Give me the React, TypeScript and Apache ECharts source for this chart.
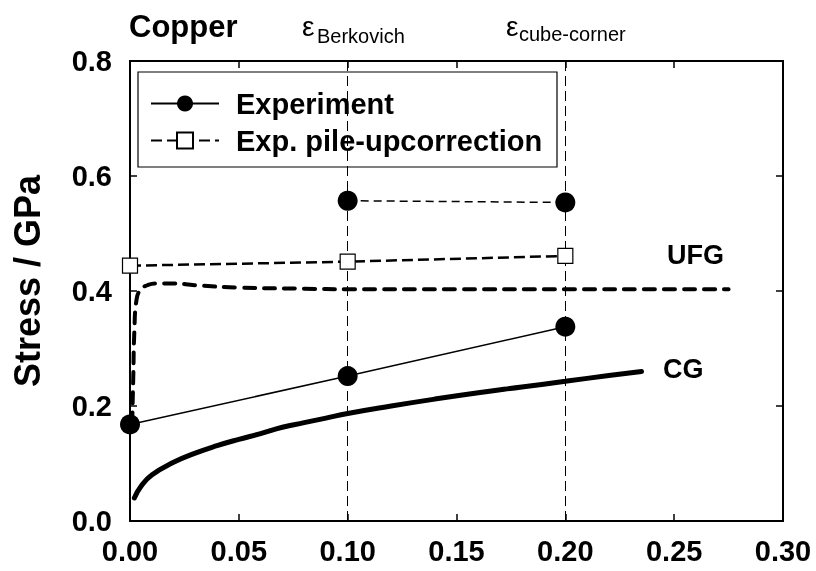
import React, { useEffect, useRef } from "react";
import * as echarts from "echarts";

const xTicks = [0, 0.05, 0.1, 0.15, 0.2, 0.25, 0.3];
const yTicks = [0, 0.2, 0.4, 0.6, 0.8];

const experimentX = [0.0, 0.1, 0.2];
const experimentY = [0.168, 0.252, 0.338];

const upperX = [0.1, 0.2];
const upperY = [0.557, 0.554];

const pileUpX = [0.0, 0.1, 0.2];
const pileUpY = [0.444, 0.451, 0.461];

const ufgX = [0.001, 0.0015, 0.002, 0.003, 0.005, 0.008, 0.012, 0.02, 0.03, 0.05, 0.08, 0.1, 0.15, 0.2, 0.25, 0.275];
const ufgY = [0.17, 0.25, 0.33, 0.385, 0.403, 0.41, 0.413, 0.413, 0.41, 0.406, 0.404, 0.403, 0.403, 0.403, 0.403, 0.403];

const cgX = [0.002, 0.005, 0.01, 0.02, 0.03, 0.04, 0.05, 0.06, 0.07, 0.08, 0.09, 0.1, 0.12, 0.14, 0.16, 0.18, 0.2, 0.22, 0.235];
const cgY = [0.04, 0.06, 0.08, 0.102, 0.118, 0.131, 0.142, 0.152, 0.163, 0.171, 0.179, 0.187, 0.2, 0.212, 0.223, 0.233, 0.243, 0.253, 0.26];

const strainMarks = [0.1, 0.2];
const legendNames = ["Experiment", "Exp. pile-upcorrection"];

const zip = (xs: number[], ys: number[]) => xs.map((x, i) => [x, ys[i]]);

const FONT = "Liberation Sans, Arial, sans-serif";

const makeAxis = (min: number, max: number, interval: number, position: string, label: any) => ({
  type: "value",
  min,
  max,
  interval,
  position,
  axisLine: { show: true, onZero: false, lineStyle: { color: "black", width: 2 } },
  axisTick: { show: true, inside: true, length: 7, lineStyle: { color: "black", width: 1.5 } },
  splitLine: { show: false },
  axisLabel: label,
});

export default function App() {
  const ref = useRef<HTMLDivElement>(null);
  useEffect(() => {
    if (!ref.current) return;
    const chart = echarts.init(ref.current, null, { renderer: "svg" });
    chart.setOption({
      animation: false,
      grid: { left: 130, right: 33, top: 61, bottom: 50, show: true, borderColor: "black", borderWidth: 2 },
      xAxis: [
        makeAxis(xTicks[0], xTicks[xTicks.length - 1], 0.05, "bottom", {
          fontFamily: FONT, fontWeight: "bold", fontSize: 29, color: "black", margin: 15,
          formatter: (v: number) => v.toFixed(2),
        }),
        makeAxis(xTicks[0], xTicks[xTicks.length - 1], 0.05, "top", { show: false }),
      ],
      yAxis: [
        makeAxis(yTicks[0], yTicks[yTicks.length - 1], 0.2, "left", {
          fontFamily: FONT, fontWeight: "bold", fontSize: 29, color: "black", margin: 18,
          formatter: (v: number) => v.toFixed(1),
        }),
        makeAxis(yTicks[0], yTicks[yTicks.length - 1], 0.2, "right", { show: false }),
      ],
      legend: {
        left: 150,
        top: 89,
        orient: "vertical",
        data: legendNames,
        padding: 0,
        itemGap: 8,
        itemWidth: 68,
        itemHeight: 20,
        textStyle: { fontFamily: FONT, fontWeight: "bold", fontSize: 29, color: "black", padding: [0, 0, 0, 12] },
      },
      series: [
        {
          name: "CG",
          type: "line",
          data: zip(cgX, cgY),
          showSymbol: false,
          smooth: true,
          lineStyle: { color: "black", width: 5, cap: "round" },
          z: 3,
          markLine: {
            silent: true,
            symbol: "none",
            label: { show: false },
            lineStyle: { color: "black", width: 1, type: [10, 5] },
            data: strainMarks.map((v) => ({ xAxis: v })),
          },
        },
        {
          name: "UFG",
          type: "line",
          data: zip(ufgX, ufgY),
          showSymbol: false,
          smooth: true,
          lineStyle: { color: "black", width: 4, type: [11, 9], cap: "round" },
          z: 3,
        },
        {
          name: "upper",
          type: "line",
          data: zip(upperX, upperY),
          symbol: "circle",
          symbolSize: 20,
          itemStyle: { color: "black" },
          lineStyle: { color: "black", width: 1.5, type: [8, 5] },
          z: 5,
        },
        {
          name: legendNames[0],
          type: "line",
          data: zip(experimentX, experimentY),
          symbol: "circle",
          symbolSize: 20,
          itemStyle: { color: "black" },
          lineStyle: { color: "black", width: 1.5 },
          z: 5,
        },
        {
          name: legendNames[1],
          type: "line",
          data: zip(pileUpX, pileUpY),
          symbol: "rect",
          symbolSize: 15,
          itemStyle: { color: "white", borderColor: "black", borderWidth: 1.2 },
          lineStyle: { color: "black", width: 2.5, type: [11, 5] },
          z: 5,
        },
        {
          name: "frame",
          type: "line",
          xAxisIndex: 1,
          yAxisIndex: 1,
          data: [],
        },
      ],
      graphic: [
        {
          type: "rect",
          shape: { x: 138, y: 72, width: 419, height: 95 },
          style: { fill: "transparent", stroke: "black", lineWidth: 1.2 },
          z: 10,
        },
        {
          type: "text",
          x: 27,
          y: 281,
          rotation: Math.PI / 2,
          style: {
            text: "Stress / GPa",
            fontFamily: FONT,
            fontWeight: "bold",
            fontSize: 36,
            fill: "black",
            align: "center",
            verticalAlign: "middle",
          },
        },
        {
          type: "text",
          x: 129,
          y: 26,
          style: { text: "Copper", fontFamily: FONT, fontWeight: "bold", fontSize: 31, fill: "black", verticalAlign: "middle" },
        },
        {
          type: "text",
          x: 302,
          y: 26,
          style: { text: "ε", fontFamily: FONT, fontSize: 28, fill: "black", verticalAlign: "middle" },
        },
        {
          type: "text",
          x: 317,
          y: 36,
          style: { text: "Berkovich", fontFamily: FONT, fontSize: 20, fill: "black", verticalAlign: "middle" },
        },
        {
          type: "text",
          x: 506,
          y: 26,
          style: { text: "ε", fontFamily: FONT, fontSize: 28, fill: "black", verticalAlign: "middle" },
        },
        {
          type: "text",
          x: 519,
          y: 34,
          style: { text: "cube-corner", fontFamily: FONT, fontSize: 20, fill: "black", verticalAlign: "middle" },
        },
        {
          type: "text",
          x: 667,
          y: 255,
          style: { text: "UFG", fontFamily: FONT, fontWeight: "bold", fontSize: 27, fill: "black", verticalAlign: "middle" },
        },
        {
          type: "text",
          x: 663,
          y: 369,
          style: { text: "CG", fontFamily: FONT, fontWeight: "bold", fontSize: 27, fill: "black", verticalAlign: "middle" },
        },
      ],
    });
    return () => chart.dispose();
  }, []);
  return <div ref={ref} style={{ position: "fixed", left: 0, top: 0, width: 816, height: 571 }} />;
}
